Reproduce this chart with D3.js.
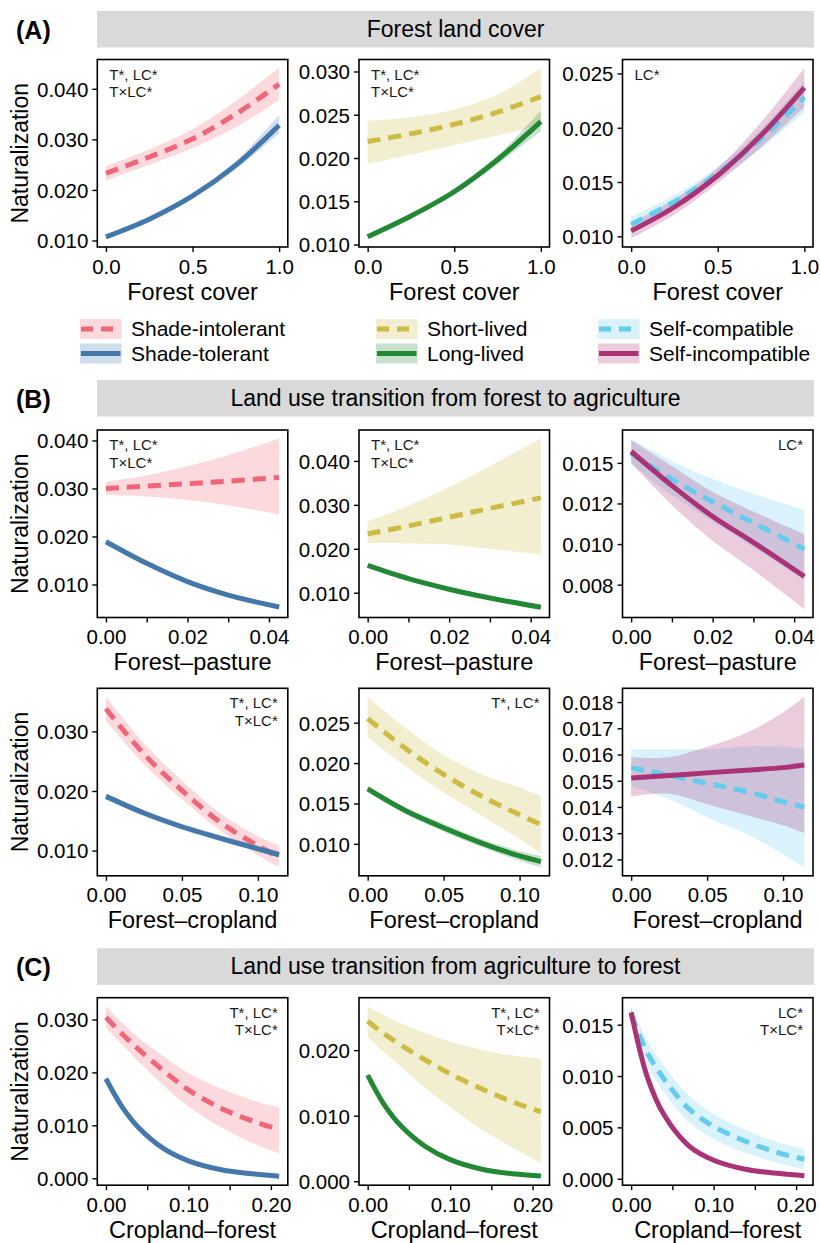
<!DOCTYPE html>
<html>
<head>
<meta charset="utf-8">
<script src="https://cdn.jsdelivr.net/npm/d3@7"></script>
<style>
  body { margin: 0; background: #fff; }
  text { font-family: "Liberation Sans", Arial, Helvetica, sans-serif; fill: #000; }
</style>
</head>
<body>
<svg id="fig" width="820" height="1243"></svg>
<script>

const forestX = [0, 0.25, 0.5, 0.75, 1]
const pastureX = [0, 0.01, 0.02, 0.03, 0.0425]
const croplandX = [0, 0.025, 0.05, 0.075, 0.1, 0.114]
const cropForestX = [0, 0.02, 0.04, 0.07, 0.1, 0.14, 0.18, 0.21]

// (A) forest cover
const a1IntolMean = [0.0233, 0.0265, 0.0301, 0.0350, 0.0409]
const a1IntolLo   = [0.0219, 0.0250, 0.0283, 0.0324, 0.0378]
const a1IntolHi   = [0.0247, 0.0280, 0.0320, 0.0376, 0.0441]
const a1TolMean   = [0.0107, 0.0142, 0.0188, 0.0249, 0.0328]
const a1TolLo     = [0.0104, 0.0139, 0.0184, 0.0241, 0.0312]
const a1TolHi     = [0.0110, 0.0145, 0.0192, 0.0257, 0.0348]

const a2ShortMean = [0.0219, 0.0228, 0.0239, 0.0253, 0.0271]
const a2ShortLo   = [0.0193, 0.0204, 0.0215, 0.0226, 0.0238]
const a2ShortHi   = [0.0243, 0.0247, 0.0256, 0.0273, 0.0304]
const a2LongMean  = [0.0109, 0.0133, 0.0161, 0.0198, 0.0242]
const a2LongLo    = [0.0107, 0.0130, 0.0158, 0.0193, 0.0231]
const a2LongHi    = [0.0111, 0.0136, 0.0165, 0.0203, 0.0255]

const a3CompMean   = [0.0111, 0.0132, 0.0158, 0.0190, 0.0228]
const a3CompLo     = [0.0104, 0.0126, 0.0152, 0.0181, 0.0214]
const a3CompHi     = [0.0118, 0.0138, 0.0164, 0.0199, 0.0243]
const a3IncompMean = [0.0105, 0.0127, 0.0156, 0.0193, 0.0237]
const a3IncompLo   = [0.0098, 0.0120, 0.0149, 0.0182, 0.0219]
const a3IncompHi   = [0.0112, 0.0134, 0.0163, 0.0205, 0.0255]

// (B) forest to pasture
const b1IntolMean = [0.0300, 0.0305, 0.0310, 0.0315, 0.0323]
const b1IntolLo   = [0.0287, 0.0283, 0.0276, 0.0265, 0.0246]
const b1IntolHi   = [0.0314, 0.0327, 0.0346, 0.0369, 0.0404]
const b1TolMean   = [0.0189, 0.0144, 0.0106, 0.0078, 0.0053]
const b1TolLo     = [0.0185, 0.0141, 0.0103, 0.0074, 0.0049]
const b1TolHi     = [0.0193, 0.0147, 0.0109, 0.0081, 0.0057]

const b2ShortMean = [0.0234, 0.0252, 0.0272, 0.0292, 0.0316]
const b2ShortLo   = [0.0213, 0.0212, 0.0210, 0.0200, 0.0187]
const b2ShortHi   = [0.0262, 0.0298, 0.0340, 0.0388, 0.0451]
const b2LongMean  = [0.0162, 0.0132, 0.0108, 0.0088, 0.0067]
const b2LongLo    = [0.0159, 0.0129, 0.0105, 0.0085, 0.0063]
const b2LongHi    = [0.0165, 0.0135, 0.0111, 0.0091, 0.0071]

const b3CompMean   = [0.0156, 0.0140, 0.0126, 0.0113, 0.0097]
const b3CompLo     = [0.0149, 0.0130, 0.0114, 0.0098, 0.0078]
const b3CompHi     = [0.0165, 0.0151, 0.0140, 0.0131, 0.0121]
const b3IncompMean = [0.0157, 0.0136, 0.0117, 0.0101, 0.0080]
const b3IncompLo   = [0.0150, 0.0124, 0.0102, 0.0084, 0.0060]
const b3IncompHi   = [0.0164, 0.0148, 0.0132, 0.0120, 0.0106]

// (B) forest to cropland
const b4IntolMean = [0.0338, 0.0262, 0.0201, 0.0148, 0.0108, 0.0089]
const b4IntolLo   = [0.0318, 0.0245, 0.0186, 0.0134, 0.0092, 0.0072]
const b4IntolHi   = [0.0358, 0.0280, 0.0217, 0.0163, 0.0124, 0.0108]
const b4TolMean   = [0.0191, 0.0163, 0.0140, 0.0121, 0.0103, 0.0093]
const b4TolLo     = [0.0186, 0.0158, 0.0135, 0.0116, 0.0098, 0.0088]
const b4TolHi     = [0.0196, 0.0168, 0.0145, 0.0126, 0.0109, 0.0099]

const b5ShortMean = [0.0255, 0.0218, 0.0186, 0.0159, 0.0136, 0.0124]
const b5ShortLo   = [0.0232, 0.0196, 0.0164, 0.0135, 0.0106, 0.0088]
const b5ShortHi   = [0.0282, 0.0243, 0.0210, 0.0186, 0.0170, 0.0159]
const b5LongMean  = [0.0168, 0.0141, 0.0120, 0.0101, 0.0085, 0.0078]
const b5LongLo    = [0.0164, 0.0137, 0.0115, 0.0096, 0.0079, 0.0071]
const b5LongHi    = [0.0172, 0.0145, 0.0125, 0.0106, 0.0091, 0.0085]

const b6CompMean   = [0.0155, 0.0152, 0.0149, 0.0146, 0.0142, 0.0140]
const b6CompLo     = [0.0148, 0.0143, 0.0136, 0.0130, 0.0122, 0.0117]
const b6CompHi     = [0.0162, 0.0162, 0.0162, 0.0163, 0.0163, 0.0162]
const b6IncompMean = [0.0151, 0.0152, 0.0153, 0.0154, 0.0155, 0.0156]
const b6IncompLo   = [0.0144, 0.0145, 0.0141, 0.0137, 0.0133, 0.0130]
const b6IncompHi   = [0.0159, 0.0159, 0.0163, 0.0168, 0.0176, 0.0182]

// (C) cropland to forest
const c1IntolMean = [0.0304, 0.0272, 0.0243, 0.0203, 0.0167, 0.0132, 0.0107, 0.0092]
const c1IntolLo   = [0.0285, 0.0252, 0.0220, 0.0175, 0.0136, 0.0096, 0.0065, 0.0047]
const c1IntolHi   = [0.0325, 0.0293, 0.0265, 0.0230, 0.0199, 0.0169, 0.0146, 0.0134]
const c1TolMean   = [0.0188, 0.0134, 0.0095, 0.0056, 0.0033, 0.0016, 0.0008, 0.0004]
const c1TolLo     = [0.0183, 0.0130, 0.0092, 0.0054, 0.0031, 0.0015, 0.0007, 0.0003]
const c1TolHi     = [0.0193, 0.0138, 0.0098, 0.0058, 0.0035, 0.0018, 0.0009, 0.0005]

const c2ShortMean = [0.0244, 0.0225, 0.0208, 0.0185, 0.0164, 0.0140, 0.0119, 0.0106]
const c2ShortLo   = [0.0221, 0.0197, 0.0175, 0.0142, 0.0113, 0.0078, 0.0048, 0.0028]
const c2ShortHi   = [0.0267, 0.0253, 0.0241, 0.0226, 0.0213, 0.0200, 0.0191, 0.0187]
const c2LongMean  = [0.0162, 0.0117, 0.0085, 0.0053, 0.0033, 0.0018, 0.0011, 0.0008]
const c2LongLo    = [0.0158, 0.0114, 0.0082, 0.0051, 0.0031, 0.0017, 0.0010, 0.0007]
const c2LongHi    = [0.0166, 0.0120, 0.0088, 0.0055, 0.0035, 0.0019, 0.0012, 0.0009]

const c3CompMean   = [0.0160, 0.0122, 0.0097, 0.0068, 0.0051, 0.0036, 0.0025, 0.0019]
const c3CompLo     = [0.0152, 0.0110, 0.0084, 0.0055, 0.0039, 0.0025, 0.0015, 0.0009]
const c3CompHi     = [0.0168, 0.0134, 0.0110, 0.0081, 0.0063, 0.0047, 0.0035, 0.0029]
const c3IncompMean = [0.0162, 0.0098, 0.0062, 0.0032, 0.0018, 0.0009, 0.0005, 0.0003]
const c3IncompLo   = [0.0156, 0.0093, 0.0058, 0.0029, 0.0016, 0.0008, 0.0004, 0.0002]
const c3IncompHi   = [0.0168, 0.0103, 0.0066, 0.0035, 0.0020, 0.0010, 0.0006, 0.0004]

// tick values and labels
const forestTicks = [0, 0.5, 1]
const forestTickLabels = ['0.0', '0.5', '1.0']
const pastureTicks = [0, 0.01, 0.02, 0.03, 0.04]
const pastureTickLabels = ['0.00', '', '0.02', '', '0.04']
const croplandTicks = [0, 0.05, 0.1]
const croplandTickLabels = ['0.00', '0.05', '0.10']
const cropForestTicks = [0, 0.05, 0.1, 0.15, 0.2]
const cropForestTickLabels = ['0.00', '', '0.10', '', '0.20']
const b3YTicks = [0.0075, 0.01, 0.0125, 0.015]
const b3YTickLabels = ['0.008', '0.010', '0.012', '0.015']

const sections = ['(A)', '(B)', '(C)']
const stripTitles = ['Forest land cover', 'Land use transition from forest to agriculture', 'Land use transition from agriculture to forest']
const legendLabels = [['Shade-intolerant', 'Shade-tolerant'], ['Short-lived', 'Long-lived'], ['Self-compatible', 'Self-incompatible']]

const colors = {
  intol: '#EE6677', tol: '#4477AA',
  short: '#CCBB44', long: '#228833',
  comp: '#66CCEE', incomp: '#AA3377'
}
const DASH = '13,8'

const svg = d3.select('#fig')
const colLeft = [97.3, 359, 622.5]
const rowTop = [59.5, 430, 688.3, 997.7]
const panelW = 190.5
const panelH = 187.5

function ser(key, dashed, mean, lo, hi) {
  return { color: colors[key], dashed, mean, lo, hi }
}
const fmt3 = d3.format('.3f')

const panels = [
  { row: 0, col: 0, x: forestX, xt: forestTicks, xl: forestTickLabels, xTitle: 'Forest cover',
    yt: [0.01, 0.02, 0.03, 0.04], note: ['T*, LC*', 'T×LC*'], noteRight: false,
    series: [ser('intol', true, a1IntolMean, a1IntolLo, a1IntolHi), ser('tol', false, a1TolMean, a1TolLo, a1TolHi)] },
  { row: 0, col: 1, x: forestX, xt: forestTicks, xl: forestTickLabels, xTitle: 'Forest cover',
    yt: [0.01, 0.015, 0.02, 0.025, 0.03], note: ['T*, LC*', 'T×LC*'], noteRight: false,
    series: [ser('short', true, a2ShortMean, a2ShortLo, a2ShortHi), ser('long', false, a2LongMean, a2LongLo, a2LongHi)] },
  { row: 0, col: 2, x: forestX, xt: forestTicks, xl: forestTickLabels, xTitle: 'Forest cover',
    yt: [0.01, 0.015, 0.02, 0.025], note: ['LC*'], noteRight: false,
    series: [ser('comp', true, a3CompMean, a3CompLo, a3CompHi), ser('incomp', false, a3IncompMean, a3IncompLo, a3IncompHi)] },

  { row: 1, col: 0, x: pastureX, xt: pastureTicks, xl: pastureTickLabels, xTitle: 'Forest–pasture',
    yt: [0.01, 0.02, 0.03, 0.04], note: ['T*, LC*', 'T×LC*'], noteRight: false,
    series: [ser('intol', true, b1IntolMean, b1IntolLo, b1IntolHi), ser('tol', false, b1TolMean, b1TolLo, b1TolHi)] },
  { row: 1, col: 1, x: pastureX, xt: pastureTicks, xl: pastureTickLabels, xTitle: 'Forest–pasture',
    yt: [0.01, 0.02, 0.03, 0.04], note: ['T*, LC*', 'T×LC*'], noteRight: false,
    series: [ser('short', true, b2ShortMean, b2ShortLo, b2ShortHi), ser('long', false, b2LongMean, b2LongLo, b2LongHi)] },
  { row: 1, col: 2, x: pastureX, xt: pastureTicks, xl: pastureTickLabels, xTitle: 'Forest–pasture',
    yt: b3YTicks, yl: b3YTickLabels, note: ['LC*'], noteRight: true,
    series: [ser('comp', true, b3CompMean, b3CompLo, b3CompHi), ser('incomp', false, b3IncompMean, b3IncompLo, b3IncompHi)] },

  { row: 2, col: 0, x: croplandX, xt: croplandTicks, xl: croplandTickLabels, xTitle: 'Forest–cropland',
    yt: [0.01, 0.02, 0.03], note: ['T*, LC*', 'T×LC*'], noteRight: true,
    series: [ser('intol', true, b4IntolMean, b4IntolLo, b4IntolHi), ser('tol', false, b4TolMean, b4TolLo, b4TolHi)] },
  { row: 2, col: 1, x: croplandX, xt: croplandTicks, xl: croplandTickLabels, xTitle: 'Forest–cropland',
    yt: [0.01, 0.015, 0.02, 0.025], note: ['T*, LC*'], noteRight: true,
    series: [ser('short', true, b5ShortMean, b5ShortLo, b5ShortHi), ser('long', false, b5LongMean, b5LongLo, b5LongHi)] },
  { row: 2, col: 2, x: croplandX, xt: croplandTicks, xl: croplandTickLabels, xTitle: 'Forest–cropland',
    yt: [0.012, 0.013, 0.014, 0.015, 0.016, 0.017, 0.018], note: [], noteRight: true,
    series: [ser('comp', true, b6CompMean, b6CompLo, b6CompHi), ser('incomp', false, b6IncompMean, b6IncompLo, b6IncompHi)] },

  { row: 3, col: 0, x: cropForestX, xt: cropForestTicks, xl: cropForestTickLabels, xTitle: 'Cropland–forest',
    yt: [0, 0.01, 0.02, 0.03], note: ['T*, LC*', 'T×LC*'], noteRight: true,
    series: [ser('intol', true, c1IntolMean, c1IntolLo, c1IntolHi), ser('tol', false, c1TolMean, c1TolLo, c1TolHi)] },
  { row: 3, col: 1, x: cropForestX, xt: cropForestTicks, xl: cropForestTickLabels, xTitle: 'Cropland–forest',
    yt: [0, 0.01, 0.02], note: ['T*, LC*', 'T×LC*'], noteRight: true,
    series: [ser('short', true, c2ShortMean, c2ShortLo, c2ShortHi), ser('long', false, c2LongMean, c2LongLo, c2LongHi)] },
  { row: 3, col: 2, x: cropForestX, xt: cropForestTicks, xl: cropForestTickLabels, xTitle: 'Cropland–forest',
    yt: [0, 0.005, 0.01, 0.015], note: ['LC*', 'T×LC*'], noteRight: true,
    series: [ser('comp', true, c3CompMean, c3CompLo, c3CompHi), ser('incomp', false, c3IncompMean, c3IncompLo, c3IncompHi)] }
]

function drawPanel(p) {
  const left = colLeft[p.col]
  const top = rowTop[p.row]
  const xMax = d3.max(p.x)
  const xScale = d3.scaleLinear()
    .domain([-0.05 * xMax, 1.05 * xMax])
    .range([left, left + panelW])
  const lo = d3.min(p.series, s => d3.min(s.lo))
  const hi = d3.max(p.series, s => d3.max(s.hi))
  const pad = (hi - lo) * 0.05
  const yScale = d3.scaleLinear()
    .domain([lo - pad, hi + pad])
    .range([top + panelH, top])

  const g = svg.append('g')

  const area = d3.area()
    .x(d => xScale(d.x))
    .y0(d => yScale(d.lo))
    .y1(d => yScale(d.hi))
    .curve(d3.curveCatmullRom)
  const line = d3.line()
    .x(d => xScale(d.x))
    .y(d => yScale(d.m))
    .curve(d3.curveCatmullRom)

  const pts = p.series.map(s => p.x.map((x, i) => ({ x, m: s.mean[i], lo: s.lo[i], hi: s.hi[i] })))

  p.series.forEach((s, k) => {
    g.append('path')
      .attr('d', area(pts[k]))
      .attr('fill', s.color)
      .attr('fill-opacity', 0.25)
  })
  p.series.forEach((s, k) => {
    g.append('path')
      .attr('d', line(pts[k]))
      .attr('fill', 'none')
      .attr('stroke', s.color)
      .attr('stroke-width', 5)
      .attr('stroke-dasharray', s.dashed ? DASH : null)
  })

  // frame
  g.append('rect')
    .attr('x', left).attr('y', top)
    .attr('width', panelW).attr('height', panelH)
    .attr('fill', 'none').attr('stroke', '#000').attr('stroke-width', 1.6)

  const yl = p.yl || p.yt.map(fmt3)
  const leftAxis = d3.axisLeft(yScale)
    .tickValues(p.yt)
    .tickFormat((d, i) => yl[i])
    .tickSize(5)
    .tickPadding(4)
  const ya = g.append('g')
    .attr('transform', `translate(${left}, 0)`)
    .call(leftAxis)
  ya.select('.domain').remove()
  ya.selectAll('line').attr('stroke-width', 1.4)
  ya.selectAll('text')
    .attr('font-size', 20.5)
    .attr('font-family', null)
    .attr('dy', '0.36em')

  const bottomAxis = d3.axisBottom(xScale)
    .tickValues(p.xt)
    .tickFormat((d, i) => p.xl[i])
    .tickSize(5)
    .tickPadding(7)
  const xa = g.append('g')
    .attr('transform', `translate(0, ${top + panelH})`)
    .call(bottomAxis)
  xa.select('.domain').remove()
  xa.selectAll('line').attr('stroke-width', 1.4)
  xa.selectAll('text')
    .attr('font-size', 20.5)
    .attr('font-family', null)

  g.append('text')
    .text(p.xTitle)
    .attr('x', left + panelW / 2)
    .attr('y', top + panelH + 52.5)
    .attr('text-anchor', 'middle')
    .attr('font-size', 23.5)

  if (p.col === 0) {
    g.append('text')
      .text('Naturalization')
      .attr('transform', `translate(28, ${top + panelH / 2}) rotate(-90)`)
      .attr('text-anchor', 'middle')
      .attr('font-size', 23)
  }

  p.note.forEach((t, i) => {
    g.append('text')
      .text(t)
      .attr('x', p.noteRight ? left + panelW - 10 : left + 12)
      .attr('y', top + 20 + i * 17.5)
      .attr('text-anchor', p.noteRight ? 'end' : 'start')
      .attr('font-size', 15)
      .style('fill', '#1a1a1a')
  })
}

// strips and section labels
const stripTop = [11, 380, 948.3]
sections.forEach((s, i) => {
  svg.append('rect')
    .attr('x', 97).attr('y', stripTop[i])
    .attr('width', 717).attr('height', 36.5)
    .attr('fill', '#d9d9d9')
  svg.append('text')
    .text(stripTitles[i])
    .attr('x', 455.5).attr('y', stripTop[i] + 26)
    .attr('text-anchor', 'middle')
    .attr('font-size', 23)
  svg.append('text')
    .text(s)
    .attr('x', 16).attr('y', stripTop[i] + 28)
    .attr('font-size', 25)
    .attr('font-weight', 'bold')
})

panels.forEach(drawPanel)

// legend
const legendKeys = [['intol', 'tol'], ['short', 'long'], ['comp', 'incomp']]
const legendX = [80, 376, 598]
const legendY = [319, 343.5]
legendKeys.forEach((pair, c) => {
  pair.forEach((key, r) => {
    const lg = svg.append('g').attr('transform', `translate(${legendX[c]}, ${legendY[r]})`)
    lg.append('rect')
      .attr('width', 41.5).attr('height', 20)
      .attr('fill', colors[key]).attr('fill-opacity', 0.25)
    lg.append('line')
      .attr('x1', 1).attr('x2', 40.5)
      .attr('y1', 10).attr('y2', 10)
      .attr('stroke', colors[key])
      .attr('stroke-width', 5)
      .attr('stroke-dasharray', r === 0 ? '12,8' : null)
    lg.append('text')
      .text(legendLabels[c][r])
      .attr('x', 51).attr('y', 17.3)
      .attr('font-size', 21)
  })
})
</script>
</body>
</html>
